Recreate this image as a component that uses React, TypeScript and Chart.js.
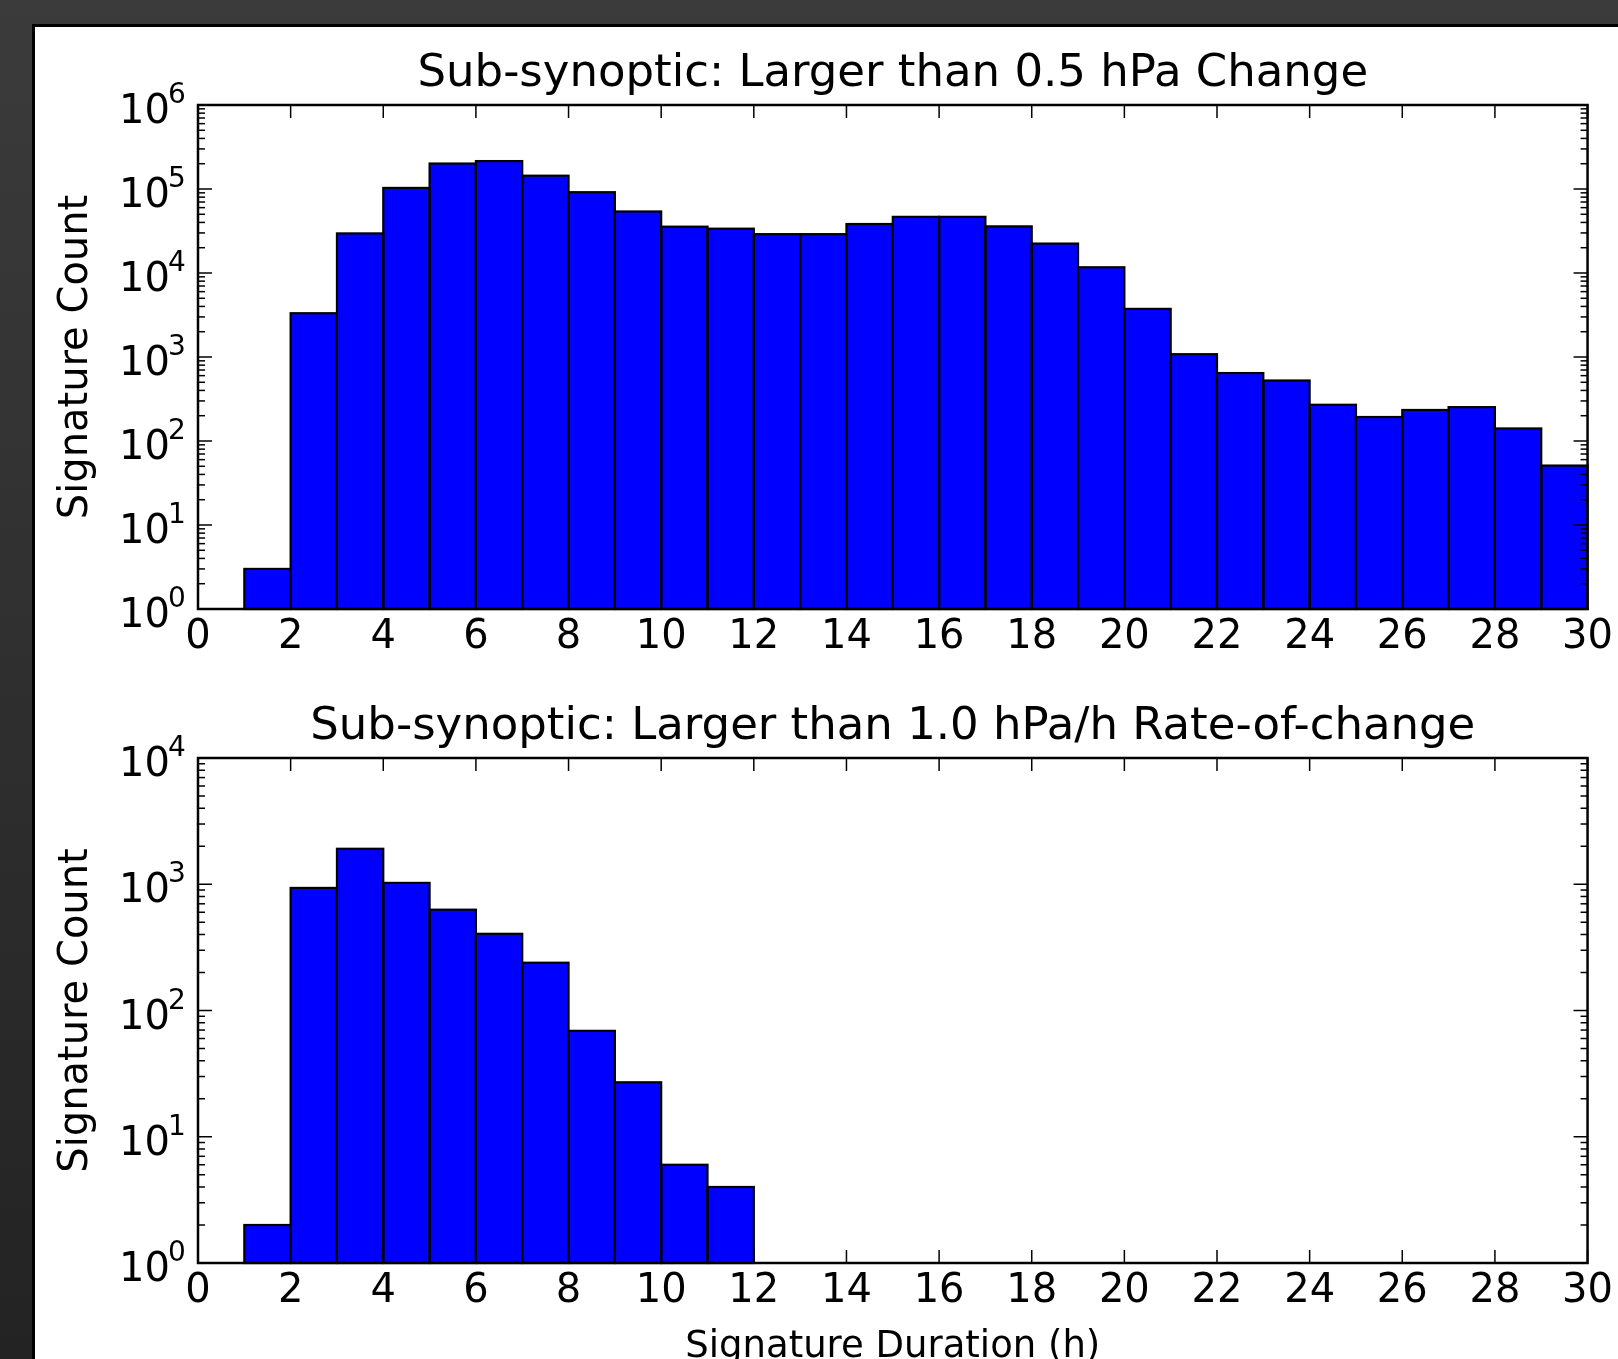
import React, { useEffect, useRef } from 'react';
import { Chart, registerables } from 'chart.js';

Chart.register(...registerables);

// ---- data (bin start hours, bins are 1 h wide) ----
const durationBins = [0, 1, 2, 3, 4, 5, 6, 7, 8, 9, 10, 11, 12, 13, 14, 15, 16, 17, 18, 19, 20, 21, 22, 23, 24, 25, 26, 27, 28, 29];
const changeCounts = [0, 3, 3320, 29600, 103000, 201000, 215000, 144000, 91600, 54000, 35600, 33700, 29000, 29000, 38300, 46600, 46600, 35900, 22400, 11700, 3740, 1080, 644, 525, 270, 193, 234, 253, 141, 51];
const rateCounts = [0, 2, 935, 1910, 1025, 629, 405, 239, 69, 27, 6, 4, 0, 0, 0, 0, 0, 0, 0, 0, 0, 0, 0, 0, 0, 0, 0, 0, 0, 0];
const xTickValues = [0, 2, 4, 6, 8, 10, 12, 14, 16, 18, 20, 22, 24, 26, 28, 30];
const topDecadeExps = [0, 1, 2, 3, 4, 5, 6];
const bottomDecadeExps = [0, 1, 2, 3, 4];
const topTitle = 'Sub-synoptic: Larger than 0.5 hPa Change';
const bottomTitle = 'Sub-synoptic: Larger than 1.0 hPa/h Rate-of-change';
const yAxisTitle = 'Signature Count';
const xAxisTitle = 'Signature Duration (h)';

const FONT = '"DejaVu Sans", "Bitstream Vera Sans", sans-serif';
Chart.defaults.font.family = FONT;
Chart.defaults.color = '#000';

const framePlugin = {
  id: 'mplFrame',
  afterDatasetsDraw(chart: any, _args: any, opts: any) {
    const { ctx, chartArea } = chart;
    const { left, right, top, bottom } = chartArea;
    const xs = chart.scales.x;
    const ys = chart.scales.y;
    ctx.save();

    // bar edges, centred on the bin boundaries (matplotlib style), from the bar elements
    ctx.strokeStyle = '#000';
    ctx.lineWidth = 2.2;
    ctx.lineJoin = 'miter';
    const meta = chart.getDatasetMeta(0);
    for (const el of meta.data as any[]) {
      const p = el.getProps(['x', 'y', 'base', 'width'], true);
      if (!isFinite(p.y) || !isFinite(p.base) || Math.abs(p.base - p.y) < 0.5) continue;
      ctx.strokeRect(p.x - p.width / 2, p.y, p.width, p.base - p.y);
    }

    ctx.lineWidth = 1.5;
    const line = (x1: number, y1: number, x2: number, y2: number) => {
      ctx.beginPath();
      ctx.moveTo(x1, y1);
      ctx.lineTo(x2, y2);
      ctx.stroke();
    };
    // x major ticks (bottom and top, inward)
    for (const v of xTickValues) {
      const px = xs.getPixelForValue(v);
      line(px, bottom, px, bottom - 13);
      line(px, top, px, top + 13);
    }
    // y log ticks (left and right, inward)
    const exps: number[] = opts.decades;
    for (let k = 0; k < exps.length; k++) {
      const base = Math.pow(10, exps[k]);
      const mMax = k === exps.length - 1 ? 1 : 9;
      for (let m = 1; m <= mMax; m++) {
        const py = ys.getPixelForValue(m * base);
        const len = m === 1 ? 14 : 7;
        line(left, py, left + len, py);
        line(right, py, right - len, py);
      }
    }
    // frame
    ctx.lineWidth = 2.5;
    ctx.strokeRect(left, top, right - left, bottom - top);

    // y tick labels: 10 with raised exponent (mathtext style)
    ctx.fillStyle = '#000';
    ctx.textAlign = 'left';
    ctx.textBaseline = 'alphabetic';
    for (const e of exps) {
      const py = ys.getPixelForValue(Math.pow(10, e));
      const x10 = left - 79;
      ctx.font = '40px ' + FONT;
      ctx.fillText('10', x10, py + 18);
      const w10 = ctx.measureText('10').width;
      ctx.font = '28px ' + FONT;
      ctx.fillText(String(e), x10 + w10 - 2, py - 2);
    }

    // title
    ctx.font = '45px ' + FONT;
    ctx.textAlign = 'center';
    ctx.fillText(opts.title, (left + right) / 2, top - 19);
    ctx.restore();
  },
};

function makeConfig(counts: number[], decades: number[], title: string, showXTitle: boolean, padTop: number, xAxisHeight: number): any {
  return {
    type: 'bar',
    data: {
      datasets: [
        {
          data: counts.map((c, i) => ({ x: durationBins[i] + 0.5, y: c > 0 ? c : null })),
          backgroundColor: '#0000ff',
          borderColor: '#000000',
          borderWidth: 0,
          barPercentage: 1,
          categoryPercentage: 1,
          inflateAmount: 0,
          grouped: false,
        },
      ],
    },
    options: {
      responsive: false,
      animation: false,
      devicePixelRatio: 1,
      layout: { padding: { top: padTop, right: 28, bottom: 0, left: 0 } },
      plugins: {
        legend: { display: false },
        tooltip: { enabled: false },
        title: { display: false },
        mplFrame: { title, decades },
      },
      scales: {
        x: {
          type: 'linear',
          min: 0,
          max: 30,
          offset: false,
          grid: { display: false, drawTicks: false },
          border: { display: false },
          afterBuildTicks: (s: any) => {
            s.ticks = xTickValues.map((v) => ({ value: v }));
          },
          ticks: {
            autoSkip: false,
            maxRotation: 0,
            padding: 5,
            color: '#000',
            font: { size: 40, family: FONT },
            callback: (v: any) => String(v),
          },
          title: {
            display: showXTitle,
            text: xAxisTitle,
            color: '#000',
            font: { size: 37, family: FONT },
            padding: { top: 0, bottom: 17 },
          },
          afterFit: (s: any) => {
            s.height = xAxisHeight;
          },
        },
        y: {
          type: 'logarithmic',
          min: 1,
          max: Math.pow(10, decades[decades.length - 1]),
          grid: { display: false, drawTicks: false },
          border: { display: false },
          afterBuildTicks: (s: any) => {
            s.ticks = decades.map((e) => ({ value: Math.pow(10, e) }));
          },
          ticks: { display: false },
          title: {
            display: true,
            text: yAxisTitle,
            color: '#000',
            font: { size: 40, family: FONT },
            padding: { top: 18, bottom: 0 },
          },
          afterFit: (s: any) => {
            s.width = 163;
          },
        },
      },
    },
    plugins: [framePlugin],
  };
}

function HistChart(props: { counts: number[]; decades: number[]; title: string; showXTitle: boolean; top: number; height: number; padTop: number; xAxisHeight: number }) {
  const ref = useRef<HTMLCanvasElement | null>(null);
  useEffect(() => {
    if (!ref.current) return;
    const chart = new Chart(ref.current, makeConfig(props.counts, props.decades, props.title, props.showXTitle, props.padTop, props.xAxisHeight));
    return () => chart.destroy();
  }, []);
  return (
    <canvas
      ref={ref}
      width={1583}
      height={props.height}
      style={{ position: 'absolute', left: 35, top: props.top, width: 1583, height: props.height }}
    />
  );
}

export default function App() {
  return (
    <div
      style={{
        position: 'absolute',
        left: 0,
        top: 0,
        width: 1618,
        height: 1359,
        overflow: 'hidden',
        background: 'linear-gradient(to bottom, #3b3b3b, #232323)',
      }}
    >
      <div
        style={{
          position: 'absolute',
          left: 32,
          top: 24,
          width: 1700,
          height: 1500,
          background: '#ffffff',
          border: '3px solid #000',
          boxSizing: 'border-box',
        }}
      />
      <HistChart counts={changeCounts} decades={topDecadeExps} title={topTitle} showXTitle={false} top={27} height={660} padTop={78} xAxisHeight={78} />
      <HistChart counts={rateCounts} decades={bottomDecadeExps} title={bottomTitle} showXTitle={true} top={687} height={700} padTop={71} xAxisHeight={124} />
    </div>
  );
}
